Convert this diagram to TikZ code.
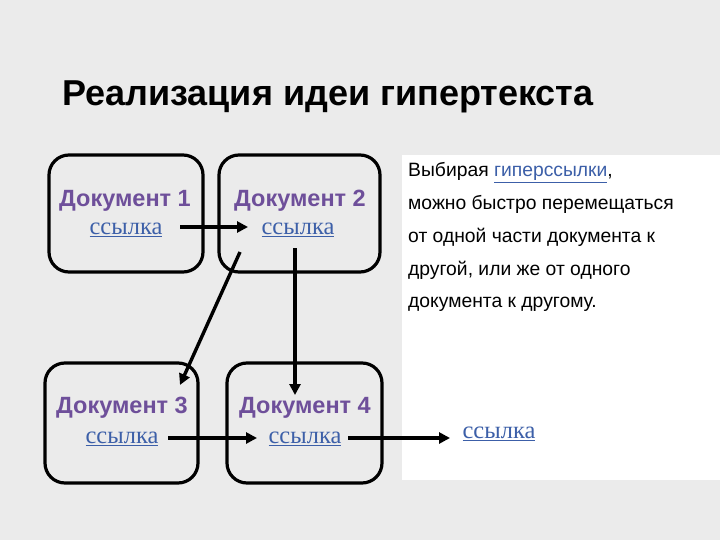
\documentclass[tikz,border=0pt]{standalone}
\usepackage{fontspec}
\setmainfont{Liberation Sans}
\newfontfamily\serifl{Liberation Serif}
\usetikzlibrary{arrows.meta}
\definecolor{bg}{HTML}{EBEBEB}
\definecolor{docpurple}{HTML}{6E4F9A}
\definecolor{linkblue}{HTML}{3C5FA8}
\newcommand{\lnk}[1]{{\color{linkblue}\underline{#1}}}
\tikzset{
  docbox/.style={draw=black, line width=3.2pt, rounded corners=20pt, fill=none},
  doctitle/.style={font=\fontsize{23.5}{28}\selectfont\bfseries, text=docpurple, inner sep=0pt},
  doclink/.style={font=\serifl\fontsize{24.5}{28}\selectfont, inner sep=0pt},
  conn/.style={line width=3.4pt, -{Triangle[length=11pt,width=11pt]}},
  rtext/.style={font=\fontsize{19.3}{23}\selectfont, anchor=base west, inner sep=0pt}
}
\begin{document}
\begin{tikzpicture}[x=1pt,y=-1pt]
\fill[bg] (0,0) rectangle (720,540);
\useasboundingbox (0,0) rectangle (720,540);
\fill[white] (402,155) rectangle (720,480);
% title
\node[anchor=base west, inner sep=0pt, font=\fontsize{36}{42}\selectfont\bfseries] (title) at (62,106) {Реализация идеи гипертекста};
% boxes
\draw[docbox] (49,155) rectangle (203,272);
\draw[docbox] (219,155) rectangle (380,272);
\draw[docbox] (45,363) rectangle (198,483);
\draw[docbox] (227,363) rectangle (382,483);
% doc texts
\node[doctitle] (t1) at (125,201) {Документ 1};
\node[doctitle] (t2) at (300,201) {Документ 2};
\node[doctitle] (t3) at (122,408) {Документ 3};
\node[doctitle] (t4) at (305,408) {Документ 4};
\node[doclink] (l1) at (126,230) {\lnk{ссылка}};
\node[doclink] (l2) at (298,230) {\lnk{ссылка}};
\node[doclink] (l3) at (122,439) {\lnk{ссылка}};
\node[doclink] (l4) at (305,439) {\lnk{ссылка}};
\node[doclink] (l5) at (499,434) {\lnk{ссылка}};
% connector end points
\coordinate (a1s) at (180,227);
\coordinate (a1e) at (248,227);
\coordinate (a2s) at (240,252);
\coordinate (a2e) at (180,385);
\coordinate (a3s) at (295,248);
\coordinate (a3e) at (295,395);
\coordinate (a4s) at (168,438);
\coordinate (a4e) at (257,438);
\coordinate (a5s) at (348,438);
\coordinate (a5e) at (450,438);
\draw[conn] (a1s) -- (a1e);
\draw[conn] (a2s) -- (a2e);
\draw[conn] (a3s) -- (a3e);
\draw[conn] (a4s) -- (a4e);
\draw[conn] (a5s) -- (a5e);
% right text
\node[rtext] (r1) at (408,177) {Выбирая \lnk{гиперссылки},};
\node[rtext] (r2) at (408,210) {можно быстро перемещаться};
\node[rtext] (r3) at (408,243) {от одной части документа к};
\node[rtext] (r4) at (408,275) {другой, или же от одного};
\node[rtext] (r5) at (408,307) {документа к другому.};
\end{tikzpicture}
\end{document}
